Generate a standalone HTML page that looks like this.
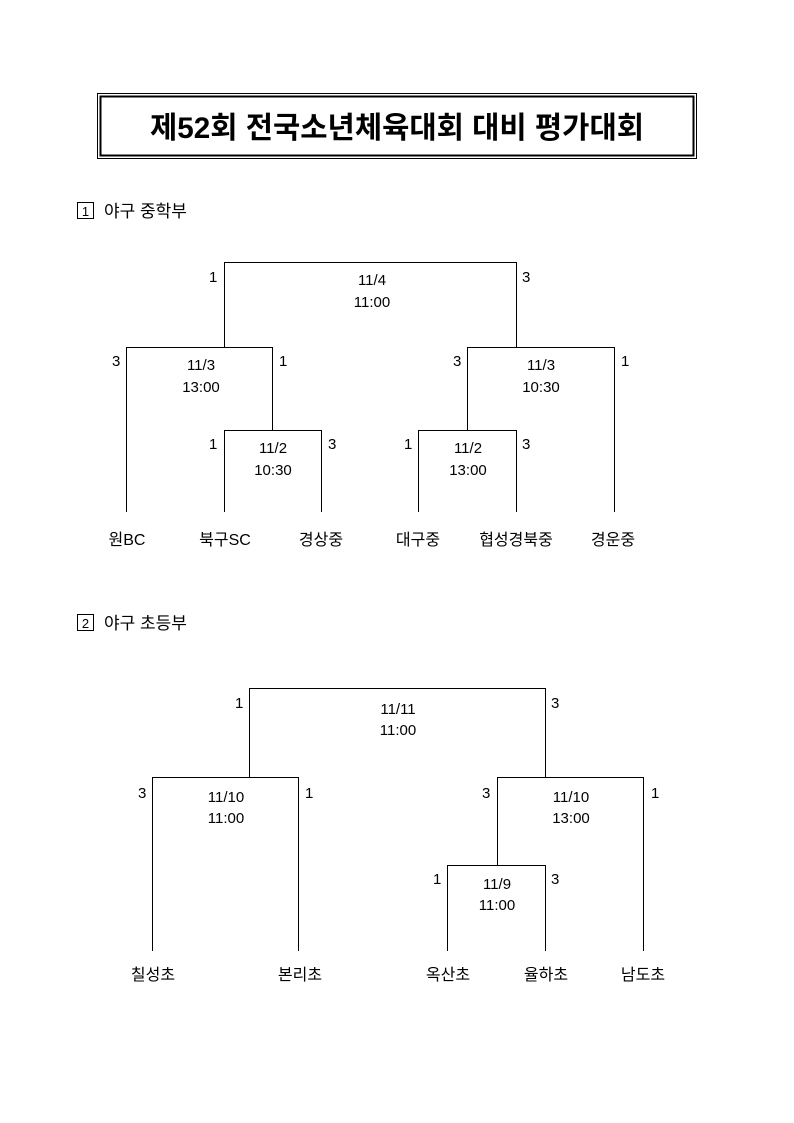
<!DOCTYPE html>
<html><head><meta charset="utf-8"><style>
html,body{margin:0;padding:0;background:#fff;}
svg{display:block;}
text{font-family:"Liberation Sans","Noto Sans CJK KR","NanumGothic",sans-serif;fill:#000;}
</style></head><body>
<svg width="794" height="1123" viewBox="0 0 794 1123" xmlns="http://www.w3.org/2000/svg">
<rect x="97.5" y="93.5" width="599" height="65" fill="none" stroke="#000" stroke-width="1"/>
<rect x="100.5" y="96.5" width="593" height="59" fill="none" stroke="#000" stroke-width="2"/>
<text x="397" y="138" font-size="30" font-weight="bold" text-anchor="middle" textLength="494" lengthAdjust="spacingAndGlyphs">제52회 전국소년체육대회 대비 평가대회</text>

<rect x="77.5" y="202.5" width="16" height="16" fill="none" stroke="#000"/>
<text x="85.5" y="216" font-size="13" text-anchor="middle">1</text>
<text x="104" y="217" font-size="17">야구 중학부</text>

<g stroke="#000" stroke-width="1" fill="none">
<polyline points="224.5,347 224.5,262.5 516.5,262.5 516.5,347"/>
<polyline points="126.5,512 126.5,347.5 272.5,347.5 272.5,430"/>
<polyline points="224.5,512 224.5,430.5 321.5,430.5 321.5,512"/>
<polyline points="467.5,430 467.5,347.5 614.5,347.5 614.5,512"/>
<polyline points="418.5,512 418.5,430.5 516.5,430.5 516.5,512"/>
</g>
<g font-size="15">
<text x="372" y="285" text-anchor="middle">11/4</text>
<text x="372" y="307" text-anchor="middle">11:00</text>
<text x="209" y="282">1</text><text x="522" y="282">3</text>
<text x="201" y="370" text-anchor="middle">11/3</text>
<text x="201" y="392" text-anchor="middle">13:00</text>
<text x="112" y="366">3</text><text x="279" y="366">1</text>
<text x="273" y="453" text-anchor="middle">11/2</text>
<text x="273" y="475" text-anchor="middle">10:30</text>
<text x="209" y="449">1</text><text x="328" y="449">3</text>
<text x="541" y="370" text-anchor="middle">11/3</text>
<text x="541" y="392" text-anchor="middle">10:30</text>
<text x="453" y="366">3</text><text x="621" y="366">1</text>
<text x="468" y="453" text-anchor="middle">11/2</text>
<text x="468" y="475" text-anchor="middle">13:00</text>
<text x="404" y="449">1</text><text x="522" y="449">3</text>
</g>
<g font-size="16" text-anchor="middle">
<text x="127" y="545">원BC</text>
<text x="225" y="545">북구SC</text>
<text x="321" y="545">경상중</text>
<text x="418" y="545">대구중</text>
<text x="516" y="545">협성경북중</text>
<text x="613" y="545">경운중</text>
</g>

<rect x="77.5" y="614.5" width="16" height="16" fill="none" stroke="#000"/>
<text x="85.5" y="628" font-size="13" text-anchor="middle">2</text>
<text x="104" y="629" font-size="17">야구 초등부</text>

<g stroke="#000" stroke-width="1" fill="none">
<polyline points="249.5,777 249.5,688.5 545.5,688.5 545.5,777"/>
<polyline points="152.5,951 152.5,777.5 298.5,777.5 298.5,951"/>
<polyline points="497.5,865 497.5,777.5 643.5,777.5 643.5,951"/>
<polyline points="447.5,951 447.5,865.5 545.5,865.5 545.5,951"/>
</g>
<g font-size="15">
<text x="398" y="714" text-anchor="middle">11/11</text>
<text x="398" y="735" text-anchor="middle">11:00</text>
<text x="235" y="708">1</text><text x="551" y="708">3</text>
<text x="226" y="802" text-anchor="middle">11/10</text>
<text x="226" y="823" text-anchor="middle">11:00</text>
<text x="138" y="798">3</text><text x="305" y="798">1</text>
<text x="571" y="802" text-anchor="middle">11/10</text>
<text x="571" y="823" text-anchor="middle">13:00</text>
<text x="482" y="798">3</text><text x="651" y="798">1</text>
<text x="497" y="889" text-anchor="middle">11/9</text>
<text x="497" y="910" text-anchor="middle">11:00</text>
<text x="433" y="884">1</text><text x="551" y="884">3</text>
</g>
<g font-size="16" text-anchor="middle">
<text x="153" y="980">칠성초</text>
<text x="300" y="980">본리초</text>
<text x="448" y="980">옥산초</text>
<text x="546" y="980">율하초</text>
<text x="643" y="980">남도초</text>
</g>
</svg>
</body></html>
